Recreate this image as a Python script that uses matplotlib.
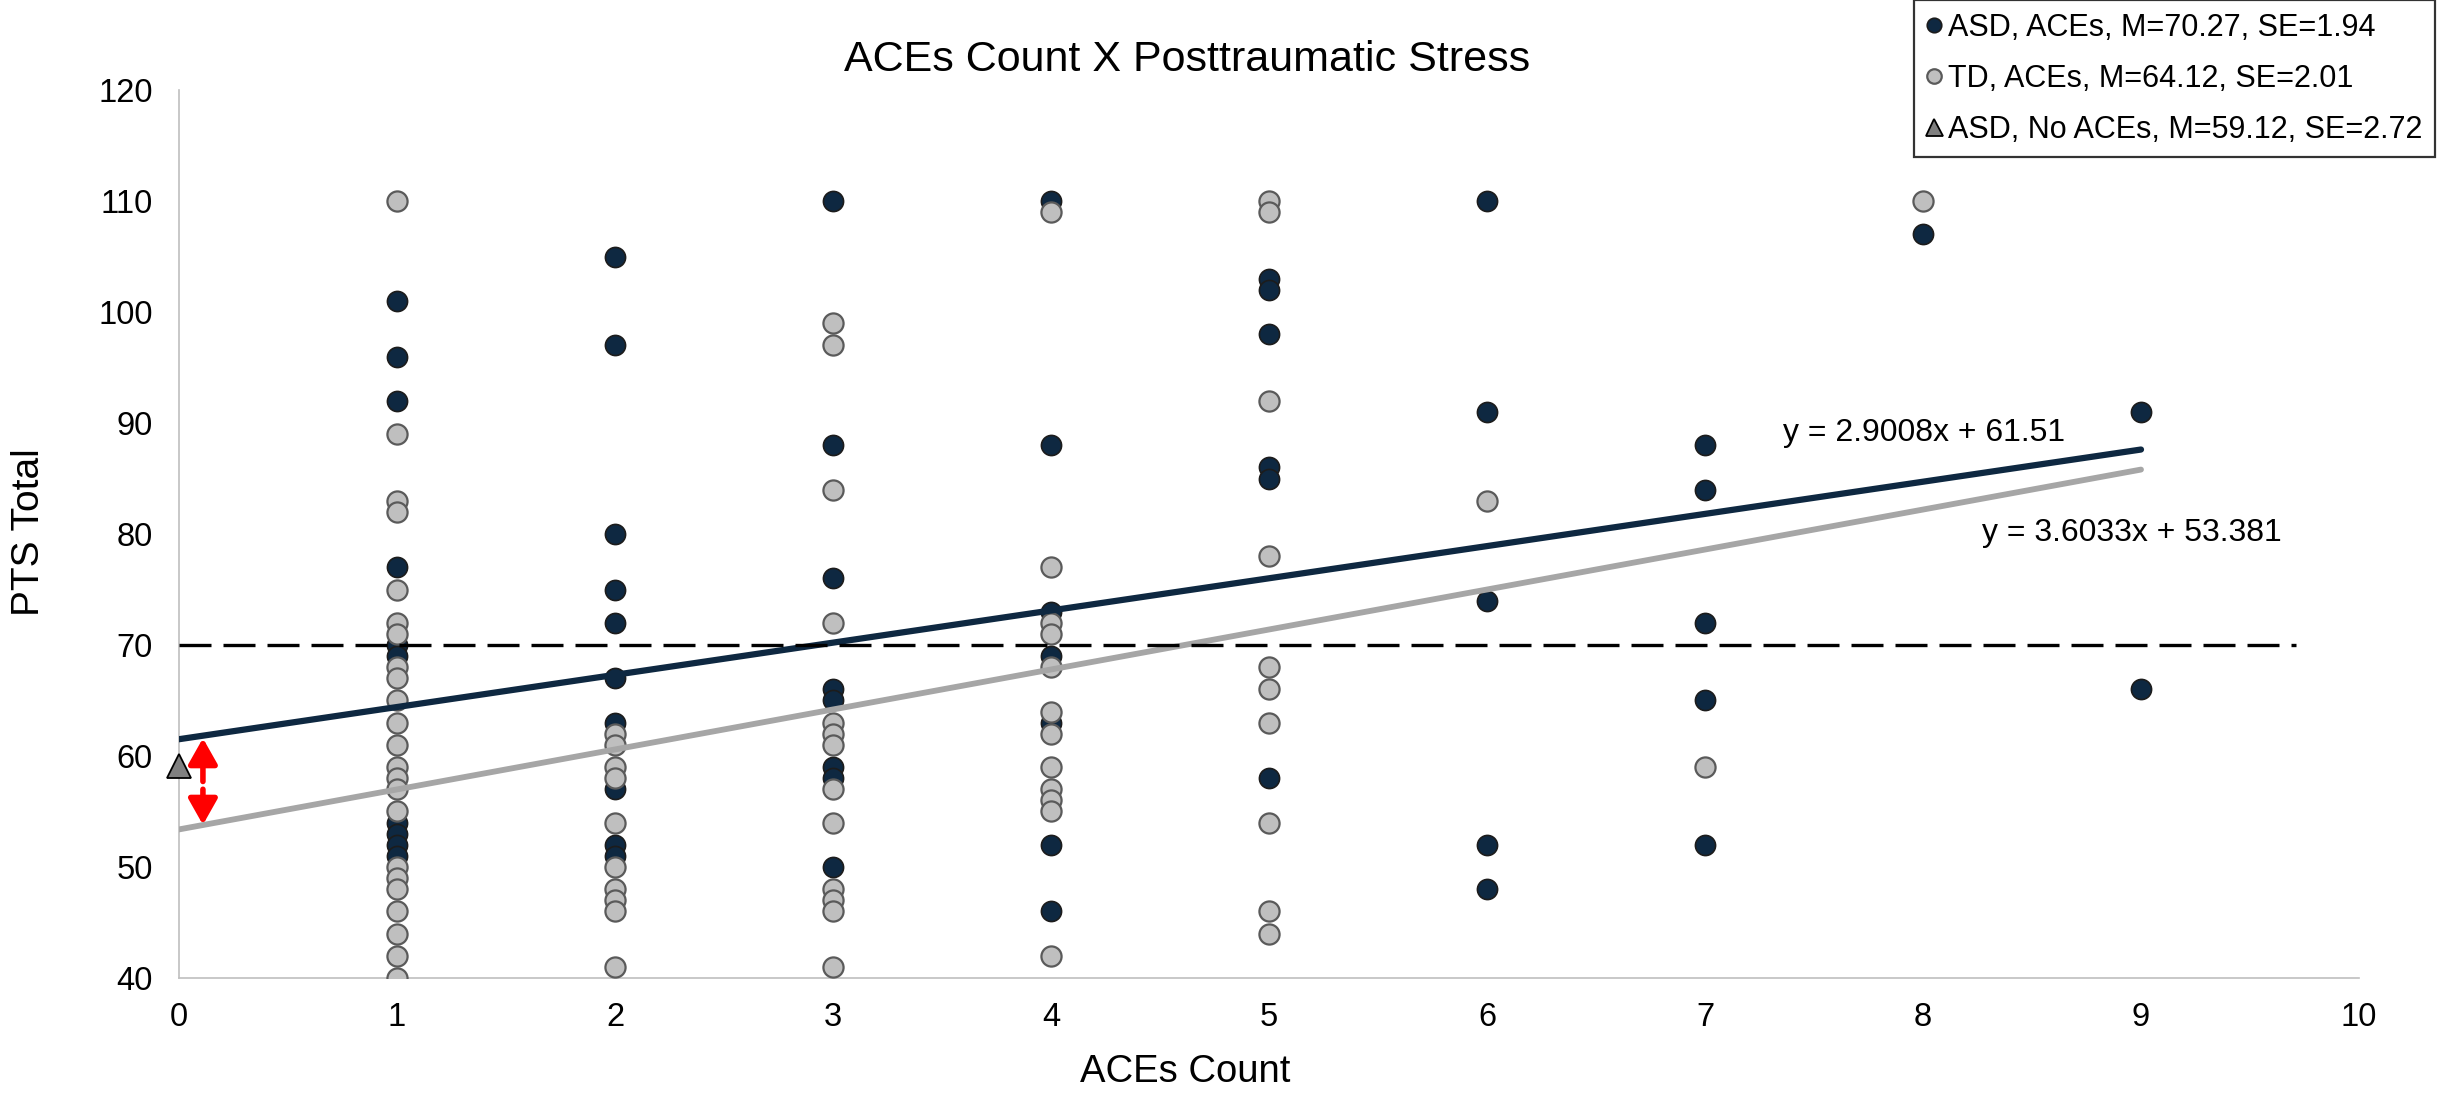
"""
ACEs count vs posttraumatic stress scatter, with linear trendlines.
"""
import matplotlib
matplotlib.use('Agg')
import matplotlib.pyplot as plt

plt.rcParams['font.family'] = ['Liberation Sans', 'DejaVu Sans']

NAVY = '#0E2841'; LGRAY = '#BFBFBF'; LINEGRAY = '#A6A6A6'

# ACEs count columns and PTS totals
count_levels = [1, 2, 3, 4, 5, 6, 7, 8, 9]
asd_scores = [
    [101, 96, 92, 77, 70, 69, 54, 53, 52, 51],
    [105, 97, 80, 75, 72, 67, 63, 57, 52, 51],
    [110, 88, 76, 66, 65, 59, 58, 50],
    [110, 88, 73, 69, 63, 52, 46],
    [103, 102, 98, 86, 85, 58],
    [110, 91, 74, 52, 48],
    [88, 84, 72, 65, 52],
    [107],
    [91, 66],
]
td_scores = [
    [110, 89, 83, 82, 75, 72, 71, 68, 67, 65, 63, 61, 59, 58, 57, 55,
     50, 49, 48, 46, 44, 42, 40],
    [62, 61, 59, 58, 54, 50, 48, 47, 46, 41],
    [99, 97, 84, 72, 63, 62, 61, 57, 54, 48, 47, 46, 41],
    [109, 77, 72, 71, 68, 64, 62, 59, 57, 56, 55, 42],
    [110, 109, 92, 78, 68, 66, 63, 54, 46, 44],
    [83],
    [59],
    [110],
    [],
]
no_aces_mean = 59.12
cutoff = 70

# trendline equations printed on the chart
asd_fit = (2.9008, 61.51)
td_fit = (3.6033, 53.381)
asd_label = 'ASD, ACEs, M=70.27, SE=1.94'
td_label = 'TD, ACEs, M=64.12, SE=2.01'
noace_label = 'ASD, No ACEs, M=59.12, SE=2.72'

asd_x = [c for c, ys in zip(count_levels, asd_scores) for _ in ys]
asd_y = [v for ys in asd_scores for v in ys]
td_x = [c for c, ys in zip(count_levels, td_scores) for _ in ys]
td_y = [v for ys in td_scores for v in ys]

fig = plt.figure(figsize=(24.38, 11), dpi=100)
ax = fig.add_axes([0.0734, 0.111, 0.8942, 0.807])

ax.plot(asd_x, asd_y, 'o', ms=14.5, mfc=NAVY, mec='#1c1c1c', mew=1.2, ls='none',
        label=asd_label, zorder=3)
ax.plot(td_x, td_y, 'o', ms=14.5, mfc=LGRAY, mec='#5a5a5a', mew=1.6, ls='none',
        label=td_label, zorder=4)
ax.plot([0], [no_aces_mean], '^', ms=17, mfc='#808080', mec='black', mew=1.3,
        ls='none', label=noace_label, clip_on=False, zorder=6)

xs = [0, 9]
ax.plot(xs, [asd_fit[0]*x + asd_fit[1] for x in xs], color=NAVY, lw=4.5,
        solid_capstyle='round', zorder=5)
ax.plot(xs, [td_fit[0]*x + td_fit[1] for x in xs], color=LINEGRAY, lw=4.2,
        solid_capstyle='round', zorder=5)
ax.plot([0, 9.71], [cutoff, cutoff], color='black', lw=2.4, dashes=(9.6, 3.6),
        zorder=6)

ax.text(7.36, 89.1, f'y = {asd_fit[0]}x + {asd_fit[1]}', fontsize=23,
        va='center', ha='left')
ax.text(8.27, 80.05, f'y = {td_fit[0]}x + {td_fit[1]}', fontsize=23,
        va='center', ha='left')

# red double arrow between the two intercepts
akw = dict(arrowstyle='-|>,head_width=0.44,head_length=0.78', color='red',
           lw=4, shrinkA=0, shrinkB=0, mutation_scale=20)
ax.annotate('', xy=(0.11, 61.6), xytext=(0.11, 57.7), arrowprops=akw, zorder=7)
ax.annotate('', xy=(0.11, 53.8), xytext=(0.11, 57.0), arrowprops=akw, zorder=7)

ax.set_xlim(0, 10)
ax.set_ylim(40, 120)
ax.set_xticks(range(0, 11))
ax.set_yticks(range(40, 121, 10))
ax.tick_params(length=0, labelsize=23.5)
ax.tick_params(axis='y', pad=19)
ax.tick_params(axis='x', pad=17)
for s in ['top', 'right']:
    ax.spines[s].set_visible(False)
for s in ['left', 'bottom']:
    ax.spines[s].set_color(LGRAY)
    ax.spines[s].set_linewidth(1.2)

fig.text(0.487, 0.9355, 'ACEs Count X Posttraumatic Stress', fontsize=31,
         ha='center', va='baseline')
fig.text(0.486, 0.025, 'ACEs Count', fontsize=27.5, ha='center', va='center')
fig.text(0.012, 0.516, 'PTS Total', fontsize=28, rotation=90,
         ha='center', va='center')

leg = fig.legend(loc='upper right', bbox_to_anchor=(0.9988, 0.9998),
                 fontsize=22, frameon=True, fancybox=False, handlelength=0.5,
                 handletextpad=0.2, labelspacing=0.68, borderpad=0.42,
                 borderaxespad=0, markerscale=0.72)
leg.get_frame().set_edgecolor('black')
leg.get_frame().set_linewidth(1.6)

plt.savefig('out.png', dpi=100)
